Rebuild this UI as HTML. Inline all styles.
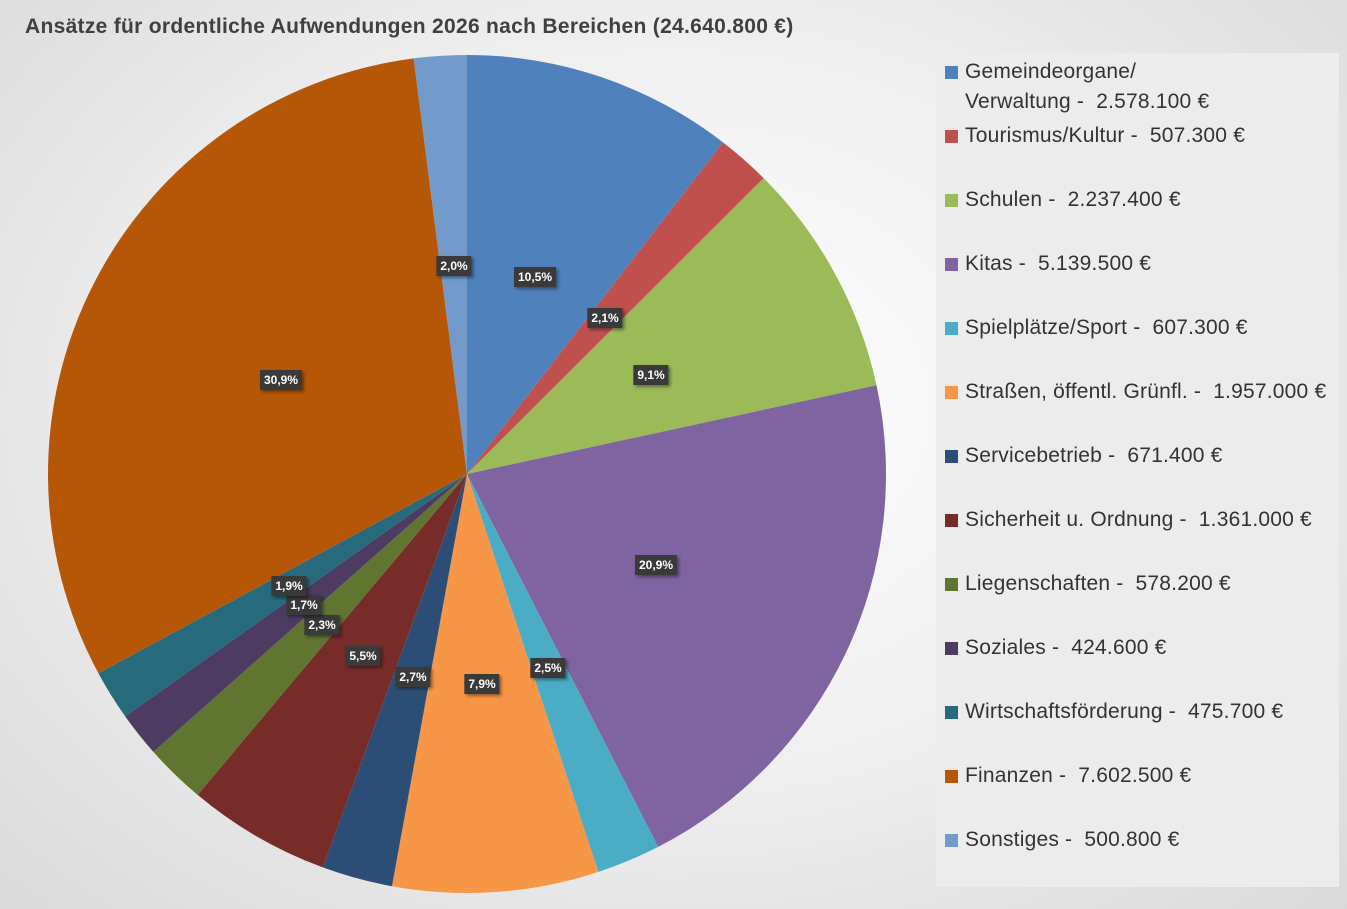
<!DOCTYPE html>
<html><head><meta charset="utf-8"><style>
body{margin:0;width:1347px;height:909px;overflow:hidden;font-family:"Liberation Sans",sans-serif;
background:radial-gradient(ellipse at 50% 45%,#ffffff 0%,#f2f2f2 45%,#d9d9d9 100%);position:relative}
#title{position:absolute;left:25px;top:15px;font-size:21px;letter-spacing:0.3px;font-weight:bold;color:#404040}
#leg{position:absolute;left:936px;top:53px;width:403px;height:834px;background:#ececec}
.li{position:absolute;left:9px;font-size:21px;letter-spacing:0.2px;color:#333;line-height:30px;white-space:nowrap}
.sq{position:absolute;left:0;width:13px;height:13px}
.lab{position:absolute;background:#3a3a3a;color:#fff;font-size:12px;font-weight:bold;padding:3px 4px;box-shadow:2px 2px 3px rgba(0,0,0,.4);transform:translate(-50%,-50%)}
</style></head><body>
<div id="title">Ansätze für ordentliche Aufwendungen 2026 nach Bereichen (24.640.800 €)</div>
<svg id="pie" width="1347" height="909" style="position:absolute;left:0;top:0"></svg>
<div id="leg"></div>
<script>
var vals=[2578.1,507.3,2237.4,5139.5,607.3,1957.0,671.4,1361.0,578.2,424.6,475.7,7602.5,500.8];
var cols=["#4F81BD","#C0504D","#9BBB59","#8064A2","#4BACC6","#F79646","#2C4D75","#772C2A","#5F7530","#4D3B62","#276A7C","#B65708","#729ACA"];
var names=["Gemeindeorgane/<br>Verwaltung -&nbsp; 2.578.100 €","Tourismus/Kultur -&nbsp; 507.300 €","Schulen -&nbsp; 2.237.400 €","Kitas -&nbsp; 5.139.500 €","Spielplätze/Sport -&nbsp; 607.300 €","Straßen, öffentl. Grünfl. -&nbsp; 1.957.000 €","Servicebetrieb -&nbsp; 671.400 €","Sicherheit u. Ordnung -&nbsp; 1.361.000 €","Liegenschaften -&nbsp; 578.200 €","Soziales -&nbsp; 424.600 €","Wirtschaftsförderung -&nbsp; 475.700 €","Finanzen -&nbsp; 7.602.500 €","Sonstiges -&nbsp; 500.800 €"];
var tot=vals.reduce((a,b)=>a+b),cx=467,cy=474,r=419,a=0,s="";
vals.forEach(function(v,i){var b=a+v/tot*2*Math.PI;
var x1=cx+r*Math.sin(a),y1=cy-r*Math.cos(a),x2=cx+r*Math.sin(b),y2=cy-r*Math.cos(b);
s+='<path d="M'+cx+','+cy+'L'+x1+','+y1+'A'+r+','+r+' 0 '+((b-a)>Math.PI?1:0)+' 1 '+x2+','+y2+'Z" fill="'+cols[i]+'"/>';a=b;});
document.getElementById('pie').innerHTML=s;
var L=document.getElementById('leg'),h="";
var ys=[19,83,147,211,275,339,403,467,531,595,659,723,787];
names.forEach(function(n,i){h+='<div class="sq" style="top:'+(ys[i]-6)+'px;left:9px;background:'+cols[i]+'"></div><div class="li" style="left:29px;top:'+(ys[i]-15)+'px">'+n+'</div>';});
L.innerHTML=h;
var labs=[["10,5%",535,277],["2,1%",605,318],["9,1%",651,375],["20,9%",656,565],["2,5%",548,668],["7,9%",482,684],["2,7%",413,677],["5,5%",363,656],["2,3%",322,625],["1,7%",304,605],["1,9%",289,586],["30,9%",281,380],["2,0%",454,266]];
labs.forEach(function(l){var d=document.createElement('div');d.className='lab';d.textContent=l[0];d.style.left=l[1]+'px';d.style.top=l[2]+'px';document.body.appendChild(d);});
</script>
</body></html>
